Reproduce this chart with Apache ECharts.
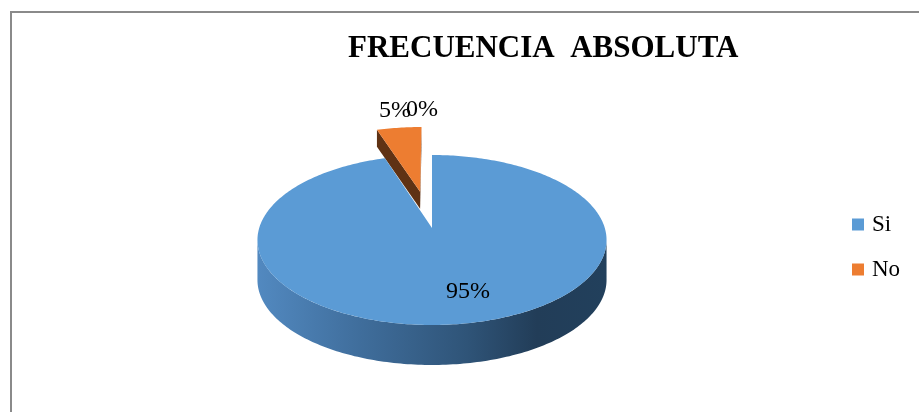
<!DOCTYPE html>
<html>
<head>
<meta charset="utf-8">
<script src="https://cdn.jsdelivr.net/npm/echarts@6/dist/echarts.min.js"></script>
<style>
  html, body { margin: 0; padding: 0; background: #ffffff; }
  #chart { width: 919px; height: 412px; }
</style>
</head>
<body>
<div id="chart"></div>
<script>
// ---- data ----
const categories = ['Si', 'No', ''];
const percentages = [95, 5, 0];
const legendItems = ['Si', 'No'];
const chartTitle = 'FRECUENCIA  ABSOLUTA';

// ---- styling ----
const SERIF = '"Liberation Serif", "Times New Roman", serif';
const faceColors = ['#5b9bd5', '#ed7d31', '#a5a5a5'];
const edgeColors = ['#3d6a96', '#5f3214', '#6b6b6b'];
const explodeBy = [0, 0.468, 0.468];
// label anchor: radius on the disc plus a pixel nudge
const labelPlacement = [
  { r: 0.7, dx: 15, dy: 0, inside: true },
  { r: 1.0, dx: -4, dy: -5, inside: false },
  { r: 1.0, dx: -10, dy: -5, inside: false }
];

// tilted disc seen in perspective
const PIE = { cx: 432, cy: 228, rx: 172.8, ry: 83.3, persp: 0.141 };
function thickness(v) {
  const t = Math.min(1, Math.max(0, (v + 0.45) / 0.45));
  return 17 + 23 * t;
}
// u: left/right, v: back(-1) to front(+1) on the unit disc
function project(u, v, dropped) {
  const w = 1 / (1 - PIE.persp * v);
  return [PIE.cx + PIE.rx * u * w, PIE.cy + PIE.ry * v * w + (dropped ? thickness(v) : 0)];
}
function rimPoint(deg, off) {
  const a = deg * Math.PI / 180;
  return [off[0] + Math.sin(a), off[1] - Math.cos(a)];
}
// rim angles (clockwise from 12 o'clock) where the outer wall turns toward the viewer
const WALL_FROM = Math.acos(-PIE.persp) * 180 / Math.PI;
const WALL_TO = 360 - WALL_FROM;

function sliceAngles(i) {
  const total = percentages.reduce((a, b) => a + b, 0);
  let start = 0;
  for (let k = 0; k < i; k++) start += percentages[k] / total * 360;
  return [start, start + percentages[i] / total * 360, total];
}

function arc(from, to, off, dropped) {
  const pts = [];
  const n = Math.max(1, Math.ceil(Math.abs(to - from)));
  for (let k = 0; k <= n; k++) {
    const p = rimPoint(from + (to - from) * k / n, off);
    pts.push(project(p[0], p[1], dropped));
  }
  return pts;
}

function radialFace(deg, off, color) {
  const r = rimPoint(deg, off);
  return {
    type: 'polygon',
    shape: { points: [project(off[0], off[1], false), project(r[0], r[1], false),
                      project(r[0], r[1], true), project(off[0], off[1], true)] },
    style: { fill: color }
  };
}

function renderSlice(i) {
  return function (params, api) {
    const value = api.value(0);
    const [a0, a1, total] = sliceAngles(i);
    const mid = (a0 + a1) / 2;
    const mr = mid * Math.PI / 180;
    const off = [explodeBy[i] * Math.sin(mr), -explodeBy[i] * Math.cos(mr)];
    const children = [];
    const camV = 5.43;

    if (a1 - a0 > 0.01) {
      // radial cut faces, drawn when they turn toward the camera
      const s = a0 * Math.PI / 180, e = a1 * Math.PI / 180;
      const nS = [-Math.cos(s), -Math.sin(s)];
      const nE = [Math.cos(e), Math.sin(e)];
      if (nS[0] * (-off[0]) + nS[1] * (camV - off[1]) > 0.01) children.push(radialFace(a0, off, edgeColors[i]));
      if (nE[0] * (-off[0]) + nE[1] * (camV - off[1]) > 0.01) children.push(radialFace(a1, off, edgeColors[i]));

      // outer wall
      const w0 = Math.max(a0, WALL_FROM), w1 = Math.min(a1, WALL_TO);
      if (w1 > w0) {
        const top = arc(w0, w1, off, false);
        const bottom = arc(w0, w1, off, true).reverse();
        children.push({
          type: 'polygon',
          shape: { points: top.concat(bottom) },
          style: {
            fill: {
              type: 'linear', x: 0, y: 0, x2: 1, y2: 0,
              colorStops: [
                { offset: 0, color: '#5289c0' },
                { offset: 0.3, color: '#3f6d9b' },
                { offset: 0.6, color: '#2f5478' },
                { offset: 0.8, color: '#223d58' },
                { offset: 1, color: '#22405c' }
              ]
            }
          }
        });
      }

      // top face
      children.push({
        type: 'polygon',
        shape: { points: [project(off[0], off[1], false)].concat(arc(a0, a1, off, false)) },
        style: { fill: faceColors[i] }
      });
    }

    // percentage label
    const lp = labelPlacement[i];
    const lr = rimPoint(mid, [0, 0]);
    const pos = project(off[0] + lr[0] * lp.r, off[1] + lr[1] * lp.r, false);
    children.push({
      type: 'text',
      x: pos[0] + lp.dx,
      y: pos[1] + lp.dy,
      style: {
        text: Math.round(value / total * 100) + '%',
        fill: '#000000',
        font: '24px ' + SERIF,
        align: 'center',
        verticalAlign: lp.inside ? 'middle' : 'bottom'
      }
    });

    return { type: 'group', children: children };
  };
}

const chart = echarts.init(document.getElementById('chart'), null, { renderer: 'canvas' });

chart.setOption({
  animation: false,
  backgroundColor: '#ffffff',
  title: {
    text: chartTitle,
    left: 343,
    top: 28,
    textStyle: { fontFamily: SERIF, fontSize: 31, fontWeight: 'bold', color: '#000000' }
  },
  legend: {
    data: legendItems,
    orient: 'vertical',
    left: 847,
    top: 208,
    icon: 'rect',
    itemWidth: 12,
    itemHeight: 12,
    itemGap: 22,
    selectedMode: false,
    textStyle: { fontFamily: SERIF, fontSize: 23, lineHeight: 22, color: '#000000', padding: [0, 0, 0, 3] }
  },
  graphic: [{
    type: 'rect',
    silent: true,
    z: -10,
    shape: { x: 11, y: 12, width: 1000, height: 1000 },
    style: { fill: null, stroke: '#8a8a8a', lineWidth: 2 }
  }],
  series: categories.map((name, i) => ({
    type: 'custom',
    name: name,
    coordinateSystem: 'none',
    z: i === 0 ? 3 : 2,
    itemStyle: { color: faceColors[i] },
    renderItem: renderSlice(i),
    data: [[percentages[i]]]
  }))
});
</script>
</body>
</html>
